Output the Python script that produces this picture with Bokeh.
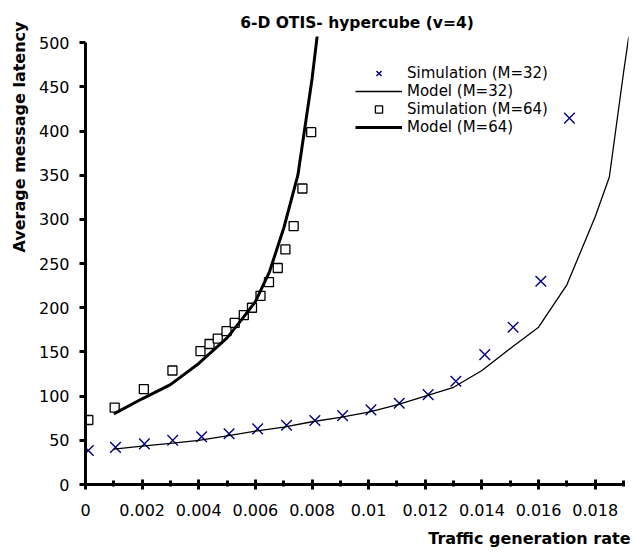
from bokeh.plotting import figure
from bokeh.models import Range1d, FixedTicker, Title, Legend, LegendItem
from bokeh.embed import file_html
from bokeh.resources import INLINE

# ---- data ----
sim32_x = [0.0001, 0.00106, 0.00208, 0.00308, 0.0041, 0.00507, 0.00608, 0.0071, 0.0081,
           0.00908, 0.01008, 0.01108, 0.0121, 0.01308, 0.0141, 0.0151, 0.01608, 0.01709]
sim32_y = [38.5, 42, 46, 50, 54, 57.5, 63, 67, 72.5, 78, 84.5, 92, 101.7, 116.8, 147, 178, 230, 414.6]

model32_x = [0.001, 0.002, 0.003, 0.004, 0.005, 0.006, 0.007, 0.008, 0.009, 0.010, 0.011,
             0.012, 0.013, 0.014, 0.015, 0.016, 0.017, 0.018, 0.0185, 0.019, 0.0192]
model32_y = [40, 43.5, 46.5, 50, 55, 60.5, 65, 71, 76, 82, 90, 100, 110, 129, 154, 178, 226,
             303, 348, 466, 510]

sim64_x = [0.0001, 0.00103, 0.00206, 0.00307, 0.00406, 0.00438, 0.00467, 0.00498, 0.00527,
           0.00559, 0.00588, 0.00618, 0.00648, 0.00679, 0.00706, 0.00735, 0.00766, 0.00797]
sim64_y = [73, 87, 108, 129, 151, 159, 165, 173.5, 183, 191.6, 200, 213.5, 229, 245, 266,
           292.5, 335, 398.7]

model64_x = [0.001, 0.002, 0.003, 0.004, 0.005, 0.0055, 0.006, 0.0065, 0.007, 0.0075, 0.008, 0.0085]
model64_y = [80, 97, 113, 137, 166, 186, 207, 241, 290, 350, 459, 592]

x_ticks = [0, 0.002, 0.004, 0.006, 0.008, 0.01, 0.012, 0.014, 0.016, 0.018]
x_tick_labels = ["0", "0.002", "0.004", "0.006", "0.008", "0.01", "0.012", "0.014", "0.016", "0.018"]
x_minor_ticks = [0.001, 0.003, 0.005, 0.007, 0.009, 0.011, 0.013, 0.015, 0.017, 0.019]
y_ticks = [0, 50, 100, 150, 200, 250, 300, 350, 400, 450, 500]

FONT = "DejaVu Sans"

p = figure(width=634, height=556, output_backend="svg", toolbar_location=None,
           x_range=Range1d(0, 0.019176), y_range=Range1d(0, 507),
           min_border_left=85, min_border_right=6, min_border_top=36, min_border_bottom=72,
           border_fill_color="white")

p.title.text = "6-D OTIS- hypercube (v=4)"
p.title.align = "center"
p.title.text_font = FONT
p.title.text_font_size = "15.5px"
p.title.text_font_style = "bold"
p.title.text_color = "black"
p.title.standoff = 10

p.xgrid.visible = False
p.ygrid.visible = False
p.outline_line_color = None
p.background_fill_color = "white"

xa = p.xaxis[0]
xa.ticker = FixedTicker(ticks=x_ticks, minor_ticks=x_minor_ticks)
xa.major_label_overrides = {t: l for t, l in zip(x_ticks, x_tick_labels)}
xa.bounds = (0, 0.019)
xa.axis_line_width = 3
xa.major_tick_line_width = 3
xa.minor_tick_line_width = 3
xa.major_tick_in = 5
xa.major_tick_out = 5
xa.minor_tick_in = 4
xa.minor_tick_out = 2
xa.major_label_text_font = FONT
xa.major_label_text_font_size = "16px"
xa.major_label_text_color = "black"
xa.major_label_standoff = 14

ya = p.yaxis[0]
ya.ticker = FixedTicker(ticks=y_ticks)
ya.bounds = (0, 500)
ya.axis_line_width = 3
ya.major_tick_line_width = 3
ya.major_tick_in = 0
ya.major_tick_out = 6
ya.minor_tick_line_color = None
ya.major_label_text_font = FONT
ya.major_label_text_font_size = "16px"
ya.major_label_text_color = "black"
ya.major_label_standoff = 10

p.add_layout(Title(text="Average message latency", align="right", offset=-15,
                   text_font=FONT, text_font_size="16px", text_font_style="bold",
                   text_color="black", standoff=13), "left")
p.add_layout(Title(text="Traffic generation rate", align="right", offset=-2,
                   text_font=FONT, text_font_size="16px", text_font_style="bold",
                   text_color="black", standoff=17), "below")

r1 = p.scatter(sim32_x, sim32_y, marker="x", size=15, line_color="#000080", line_width=1.4)
r2 = p.line(model32_x, model32_y, line_color="black", line_width=1.3)
r3 = p.scatter(sim64_x, sim64_y, marker="square", size=9, line_color="black",
               fill_color="white", line_width=1.3)
r4 = p.line(model64_x, model64_y, line_color="black", line_width=3)

legend = Legend(items=[
    LegendItem(label="Simulation (M=32)", renderers=[r1]),
    LegendItem(label="Model (M=32)", renderers=[r2]),
    LegendItem(label="Simulation (M=64)", renderers=[r3]),
    LegendItem(label="Model (M=64)", renderers=[r4]),
], location=(270, 348), glyph_width=47, glyph_height=18, label_height=18, spacing=0,
    padding=0, margin=0, label_standoff=5, label_text_font=FONT, label_text_font_size="15px",
    label_text_color="black", background_fill_alpha=0, border_line_alpha=0)
p.add_layout(legend)

open("out.html", "w").write(file_html(p, INLINE))
